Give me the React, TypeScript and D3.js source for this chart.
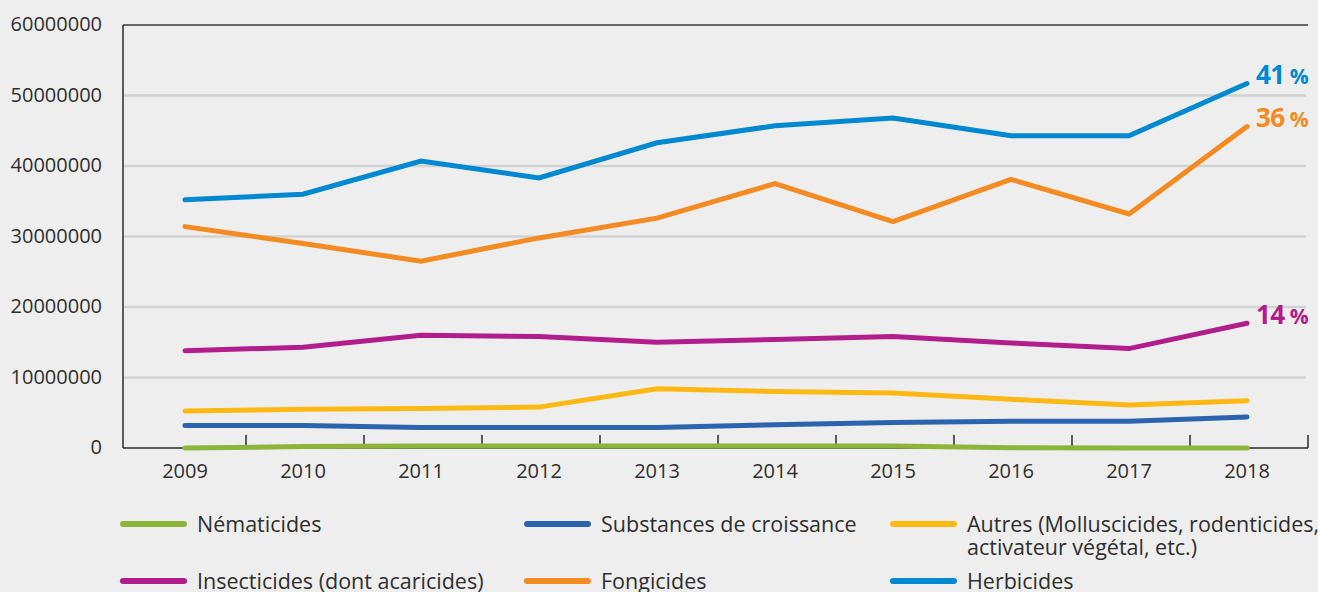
import * as d3 from 'd3'

const W = 1318
const H = 592

const years = ['2009', '2010', '2011', '2012', '2013', '2014', '2015', '2016', '2017', '2018']

const nematicides = [0, 200000, 300000, 300000, 300000, 300000, 300000, 50000, 0, 0]
const substances = [3200000, 3200000, 2900000, 2900000, 2900000, 3300000, 3600000, 3800000, 3800000, 4400000]
const autres = [5260000, 5500000, 5600000, 5800000, 8400000, 8000000, 7800000, 6900000, 6100000, 6700000]
const insecticides = [13800000, 14300000, 16000000, 15800000, 15000000, 15400000, 15800000, 14900000, 14100000, 17700000]
const fongicides = [31400000, 29000000, 26500000, 29800000, 32600000, 37500000, 32100000, 38100000, 33200000, 45600000]
const herbicides = [35200000, 36000000, 40700000, 38300000, 43300000, 45700000, 46800000, 44300000, 44300000, 51700000]

const yTicks = [0, 10000000, 20000000, 30000000, 40000000, 50000000, 60000000]

const series = [
  { name: 'Nématicides', values: nematicides, color: '#8db53c' },
  { name: 'Substances de croissance', values: substances, color: '#2b63ae' },
  { name: 'Autres (Molluscicides, rodenticides,|activateur végétal, etc.)', values: autres, color: '#fdb913' },
  { name: 'Insecticides (dont acaricides)', values: insecticides, color: '#b21d8c', share: '14' },
  { name: 'Fongicides', values: fongicides, color: '#f38a22', share: '36' },
  { name: 'Herbicides', values: herbicides, color: '#0088d0', share: '41' },
]

// legend slots: 3 columns x 2 rows
const legendCols = [120, 524, 890]
const legendRows = [524, 581]

const FONT = "'Open Sans', sans-serif"
const TEXT = '#2e2e2e'

export default function App() {
  const left = 123, right = 1306, top = 25, bottom = 448

  const x = d3.scaleBand().domain(years).range([126, right])
  const y = d3.scaleLinear().domain([0, 60000000]).range([bottom, top])
  const cx = (yr: string) => (x(yr) ?? 0) + x.bandwidth() / 2

  const line = d3.line<number>()
    .x((_, i) => cx(years[i]))
    .y(d => y(d))

  const tickXs = years.slice(1).map(yr => x(yr) ?? 0).concat([right])

  return (
    <svg width={W} height={H} style={{ position: 'fixed', left: 0, top: 0, background: '#eeeeee' }}
      fontFamily={FONT}>
      <rect width={W} height={H} fill="#eeeeee" />

      {/* grid */}
      {yTicks.slice(1, -1).map(t => (
        <line key={t} x1={left} x2={right} y1={y(t)} y2={y(t)} stroke="#d2d2d2" strokeWidth={2.5} />
      ))}
      <line x1={left} x2={right + 2} y1={y(60000000)} y2={y(60000000)} stroke="#3a3a3a" strokeWidth={1.5} />

      {/* axes */}
      <line x1={left} x2={left} y1={top} y2={bottom} stroke="#2a2a2a" strokeWidth={1.5} />
      <line x1={left} x2={right + 2} y1={bottom} y2={bottom} stroke="#2a2a2a" strokeWidth={1.5} />
      {tickXs.map((t, i) => (
        <line key={i} x1={t + 2} x2={t + 2} y1={bottom} y2={bottom - 13} stroke="#2a2a2a" strokeWidth={1.5} />
      ))}

      {yTicks.map(t => (
        <text key={t} x={102} y={y(t)} dy="0.3em" textAnchor="end" fontSize={20} fill={TEXT}>{t}</text>
      ))}
      {years.map(yr => (
        <text key={yr} x={cx(yr)} y={478} textAnchor="middle" fontSize={20} fill={TEXT}>{yr}</text>
      ))}

      {/* lines */}
      {series.map(s => (
        <path key={s.name} d={line(s.values) ?? ''} fill="none" stroke={s.color} strokeWidth={5}
          strokeLinecap="round" strokeLinejoin="miter" />
      ))}

      {/* share labels */}
      {series.filter(s => s.share).map(s => (
        <text key={s.name} x={cx('2018') + 9} y={y(s.values[9])}
          dy="0.05em" fontWeight={700} fill={s.color}>
          <tspan fontSize={26} letterSpacing={-0.5}>{s.share}</tspan>
          <tspan fontSize={21} dx={5}>%</tspan>
        </text>
      ))}

      {/* legend */}
      {series.map((s, i) => {
        const lx = legendCols[i % 3]
        const ly = legendRows[Math.floor(i / 3)]
        const parts = s.name.split('|')
        return (
          <g key={s.name}>
            <line x1={lx + 3} x2={lx + 64} y1={ly} y2={ly} stroke={s.color} strokeWidth={6} strokeLinecap="round" />
            <text x={lx + 77} y={ly + 8} fontSize={21.5} fill={TEXT}>
              {parts.map((p, j) => (
                <tspan key={j} x={lx + 77} dy={j === 0 ? 0 : 23}>{p}</tspan>
              ))}
            </text>
          </g>
        )
      })}
    </svg>
  )
}
